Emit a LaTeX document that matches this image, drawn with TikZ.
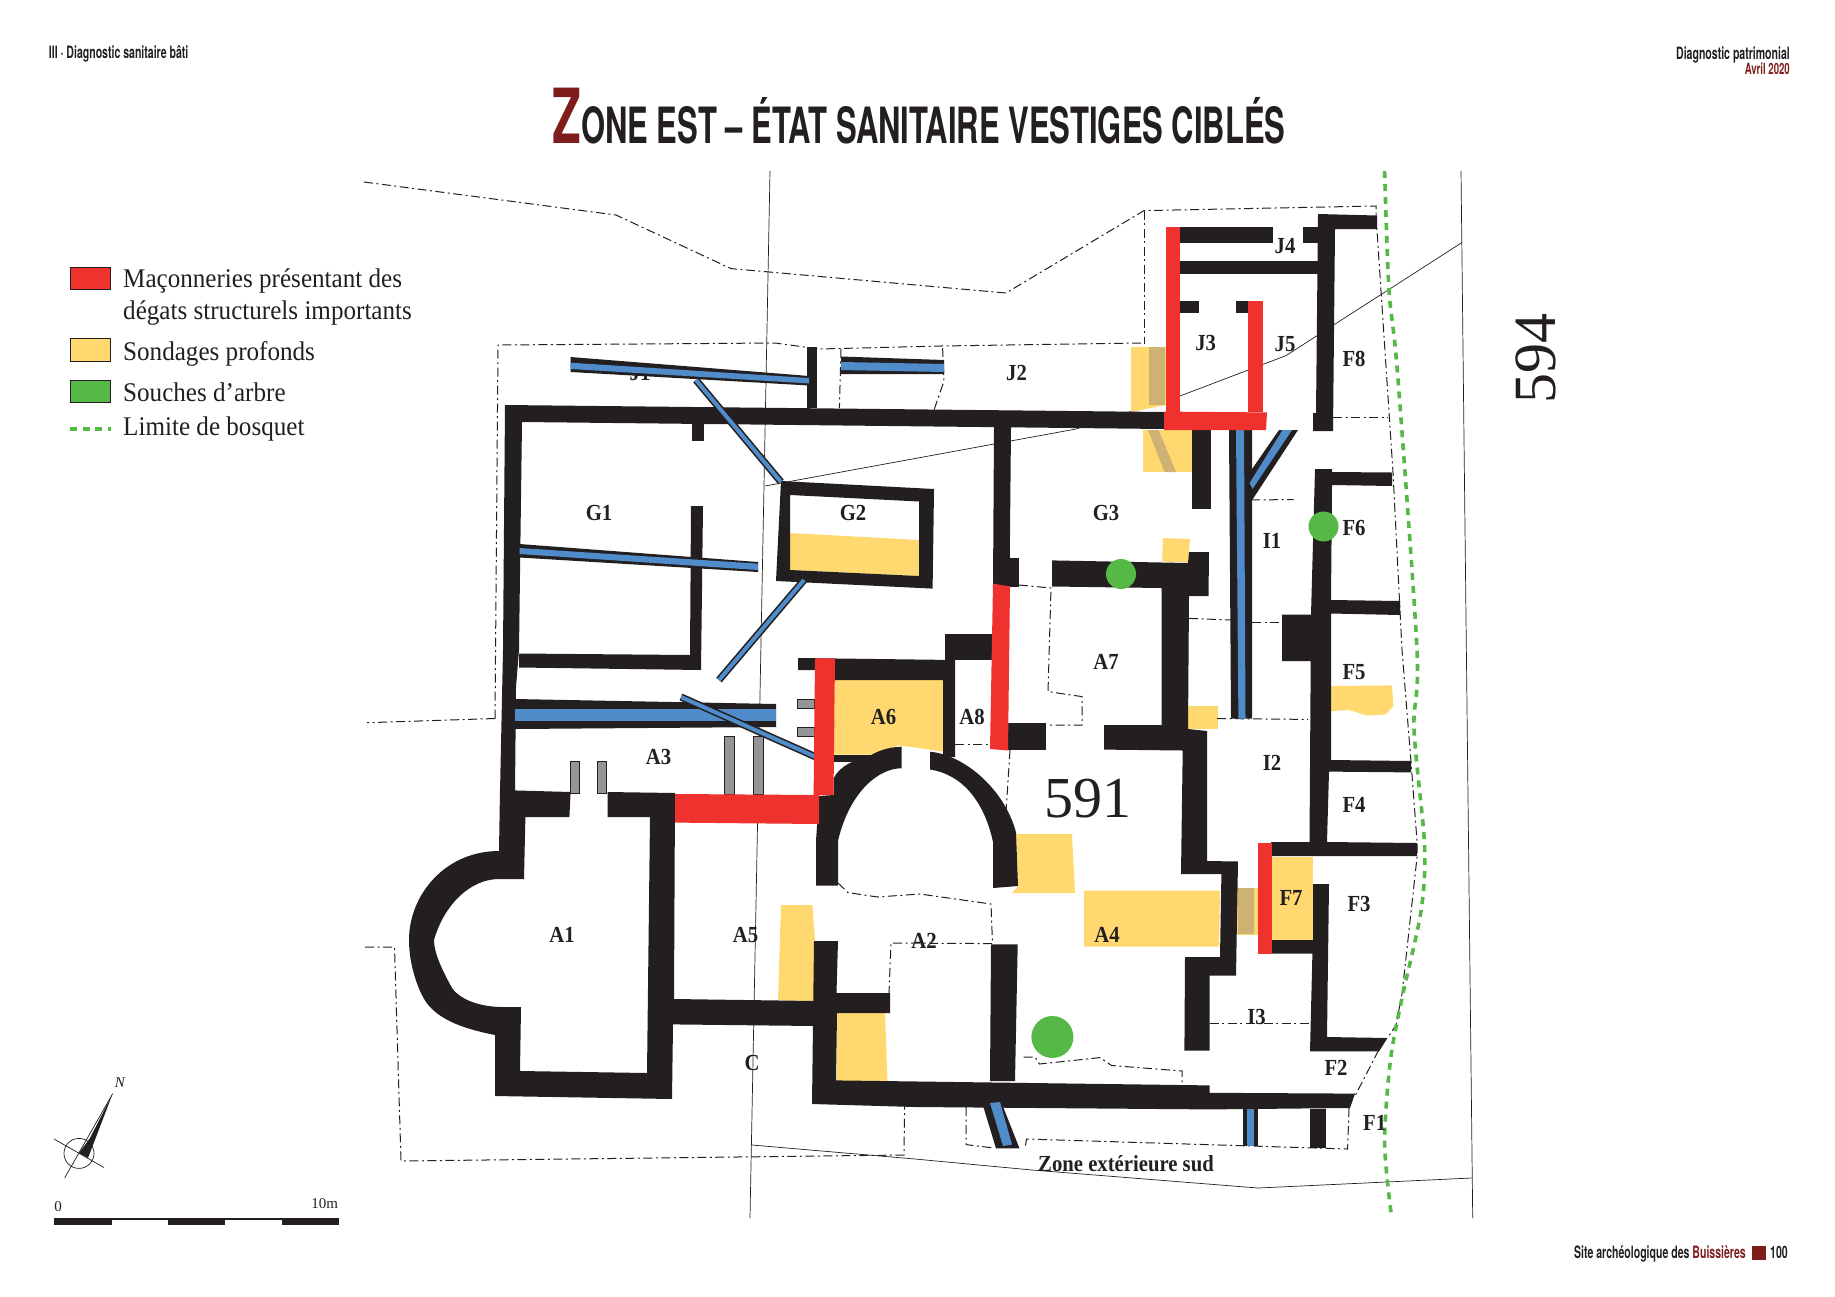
\documentclass[tikz,border=0pt]{standalone}
\usepackage{fontspec}
\setmainfont{Liberation Serif}
\newfontfamily\headfont[FakeStretch=0.62]{TeX Gyre Heros}
\newfontfamily\legendfont[FakeStretch=0.93]{Liberation Serif}
\newfontfamily\roomfont[FakeStretch=0.9]{Liberation Serif}
\usetikzlibrary{positioning,calc}
\definecolor{wallc}{HTML}{231F20}
\definecolor{redc}{HTML}{EF322D}
\definecolor{yellowc}{HTML}{FFD970}
\definecolor{bluec}{HTML}{4F8CC9}
\definecolor{grayc}{HTML}{939598}
\definecolor{greenc}{HTML}{56B947}
\definecolor{darkredc}{HTML}{7F1D1D}
\definecolor{tanc}{HTML}{CDB273}
\begin{document}
\begin{tikzpicture}[x=1pt,y=-1pt]
    \tikzstyle{every node}=[inner sep=0,text=wallc]
    \tikzstyle{wall}=[fill=wallc]
    \tikzstyle{damage}=[fill=redc]
    \tikzstyle{probe}=[fill=yellowc]
    \tikzstyle{oldprobe}=[fill=tanc]
    \tikzstyle{water}=[fill=bluec]
    \tikzstyle{stub}=[fill=grayc,draw=wallc,line width=0.6]
    \tikzstyle{stump}=[fill=greenc]
    \tikzstyle{pipe}=[draw=wallc,double=bluec,double distance=4,line width=1.6]
    \tikzstyle{thin}=[draw=wallc,line width=0.7]
    \tikzstyle{limit}=[draw=wallc,line width=1,dash pattern=on 9 off 3.5 on 2 off 3.5]
    \tikzstyle{grove}=[draw=greenc,line width=3.6,dash pattern=on 7 off 6]
    \tikzstyle{room}=[font=\roomfont\bfseries\fontsize{23}{23}\selectfont]
    \tikzstyle{legend}=[anchor=base west,font=\legendfont\fontsize{27}{27}\selectfont]
    \tikzstyle{head}=[font=\headfont\bfseries\fontsize{17}{17}\selectfont]
    \useasboundingbox (0,0) rectangle (1835,1296);

    % header and title
    \node[head,anchor=base west] (runhead) at (48.7,58) {III · Diagnostic sanitaire bâti};
    \node[head,anchor=base east] (runright) at (1790,59) {Diagnostic patrimonial};
    \node[head,anchor=base east,text=darkredc,font=\headfont\bfseries\fontsize{15.5}{15.5}\selectfont] (rundate) at (1790,74.6) {Avril 2020};
    \node[anchor=base,font=\headfont\bfseries\fontsize{50}{50}\selectfont] (title) at (919,143)
        {\textcolor{darkredc}{\fontsize{76}{76}\selectfont Z}ONE EST – ÉTAT SANITAIRE VESTIGES CIBLÉS};
    \node[head,anchor=base east] (foot) at (1746,1258) {Site archéologique des \textcolor{darkredc}{Buissières}};
    \fill[fill=darkredc] (1751.5,1246) rectangle (1766,1259.5);
    \node[head,anchor=base east] (folio) at (1788,1258) {100};

    % legend
    \draw[damage,draw=wallc,line width=0.8] (70.4,267.4) rectangle (110.4,289.3);
    \draw[probe,draw=wallc,line width=0.8] (70.4,338) rectangle (110.4,361.4);
    \draw[stump,draw=wallc,line width=0.8] (70.4,380.5) rectangle (110.4,402.5);
    \draw[draw=greenc,line width=3.6,dash pattern=on 7 off 5.5] (70.4,429) -- (111,429);
    \node[legend] (leg1) at (123,287) {Maçonneries présentant des};
    \node[legend] (leg2) at (123,319) {dégats structurels importants};
    \node[legend] (leg3) at (123,360) {Sondages profonds};
    \node[legend] (leg4) at (123,401) {Souches d’arbre};
    \node[legend] (leg5) at (123,435) {Limite de bosquet};

    % cadastre
    \draw[thin] (770,171) -- (750,1218);
    \draw[thin] (1461,171) -- (1472.7,1218);
    \draw[thin] (765,486) -- (1076,429) -- (1180,396) -- (1286,355.6) -- (1462,242.5);
    \draw[thin] (752,1145) -- (915,1159) -- (1032,1170) -- (1258,1188) -- (1471.5,1178);

    % soundings
    \fill[probe] (790,533) -- (919,540) -- (919,576) -- (790,570) -- cycle;
    \fill[probe] (835,680) -- (943,680) -- (943,751.7) -- (915,747.5) -- (898,745.5) -- (872,754.6) -- (833.5,754.6) -- cycle;
    \fill[probe] (1016,834) -- (1072,834) -- (1075,893) -- (1012,893) -- (1018,886) -- cycle;
    \fill[probe] (1084,890.6) -- (1220,890.6) -- (1219,946.5) -- (1084,946.5) -- cycle;
    \fill[probe] (1258,887.7) rectangle (1237,935);
    \fill[oldprobe] (1238,888) rectangle (1254,934);
    \fill[probe] (1271,856.6) -- (1313,856.6) -- (1313,940) -- (1271,940) -- cycle;
    \fill[probe] (1331,686) -- (1392,685.4) -- (1393.4,706) -- (1386,714.4) -- (1367,715.6) -- (1349,710) -- (1331,711) -- cycle;
    \fill[probe] (1188,706) rectangle (1218,729);
    \fill[probe] (1163,538) -- (1190,539) -- (1188,562.5) -- (1162,561.6) -- cycle;
    \fill[probe] (1131,347) -- (1166,347) -- (1166,405) -- (1131,412) -- cycle;
    \fill[oldprobe] (1149,347) rectangle (1164.5,405);
    \fill[probe] (1143,430) rectangle (1192,472);
    \fill[oldprobe] (1148,430) -- (1158.6,430) -- (1176,472) -- (1164.5,472) -- cycle;
    \fill[probe] (781,905) -- (812.4,905) -- (815,941) -- (815,1001) -- (778,1000.4) -- cycle;
    \fill[probe] (836.5,1013) -- (885,1011.6) -- (887.5,1081) -- (836.5,1081) -- cycle;

    % limits of the rooms
    \draw[limit] (364,182) -- (616,215) -- (731,268.6) -- (1006,293) -- (1144,210.6) -- (1376,206) -- (1376,215.5);
    \draw[limit] (1144,210.6) -- (1144,344);
    \draw[limit] (495,718.5) -- (498,345) -- (775,343) -- (819,349) -- (941,346) -- (1141,343);
    \draw[limit] (495,718.5) -- (367,722.7);
    \draw[limit] (942.6,348) -- (944,381) -- (934,410);
    \draw[limit] (841,349) -- (839.4,408);
    \draw[limit] (365,947) -- (394.5,947) -- (401,1161) -- (904,1155) -- (904.6,1106);
    \draw[limit] (838,883) -- (848,892.6) -- (877.6,897) -- (920,894) -- (991,904) -- (992.5,943.6) -- (891,943) -- (889,993);
    \draw[limit] (1019,585) -- (1051,588) -- (1048,691.6) -- (1082,696.6) -- (1082,725) -- (1047,725);
    \draw[limit] (955,744) -- (990,744);
    \draw[limit] (1010,750) -- (1006,812);
    \draw[limit] (1251,500) -- (1293.6,499.5);
    \draw[limit] (1189,618.4) -- (1231,620);
    \draw[limit] (1252,622.6) -- (1282,622.6);
    \draw[limit] (1217,718.5) -- (1308,719.4);
    \draw[limit] (1333,417) -- (1387.5,417);
    \draw[limit] (1376,215.5) -- (1393,472.5) -- (1402,650) -- (1411,762) -- (1417,841) -- (1417,857.4) -- (1402,994) -- (1396,1025) -- (1387.5,1038);
    \draw[limit] (1378.7,1050) -- (1355,1096);
    \draw[limit] (1349,1108) -- (1347.6,1149) -- (1026.5,1139) -- (1025,1148.4);
    \draw[limit] (966,1107) -- (966,1144.6) -- (994,1148);
    \draw[limit] (1209.7,1023) -- (1309.5,1023);
    \draw[limit] (1023.6,1057) -- (1035,1057) -- (1039.4,1064) -- (1100,1057.6) -- (1111.6,1065.5) -- (1182,1071) -- (1182,1084.5);

    % labels lying under the masonry
    \node[room] (J1) at (640,373) {J1};
    \node[room] (I3) at (1256.6,1017) {I3};

    % walls
    \fill[wall] (505,405) -- (1164,412) -- (1164,429) -- (522,422) -- (519,650) -- (516,687) -- (515,792) -- (500,792) -- (503,650) -- cycle;
    \fill[wall] (692,420) rectangle (704,441);
    \fill[wall] (807,347) rectangle (817,408);
    \fill[wall] (570.5,357) -- (809,376) -- (809,385.5) -- (570.5,372) -- cycle;
    \fill[wall] (841,356.5) -- (944,360) -- (944,374) -- (841,374) -- cycle;
    \fill[wall] (691,506) -- (703,506) -- (701,670) -- (519,667.5) -- (519,653.5) -- (690,655) -- cycle;
    \fill[wall] (519.5,544) -- (758,562) -- (758,572) -- (519.5,557.5) -- cycle;
    \fill[wall,even odd rule] (781,481) -- (934,489) -- (932.6,588.6) -- (776,581) -- cycle
        (790,495) -- (919,501.5) -- (919,576) -- (790,570) -- cycle;
    \fill[wall] (515,699) -- (776,704) -- (776,727) -- (515,729) -- cycle;
    \fill[wall] (500,790) -- (570.6,792) -- (569.4,817) -- (525.4,817) -- (524,879) -- (499,879)
        .. controls (470,879) and (444,905) .. (434,940)
        .. controls (434,955) and (445,975) .. (452,988)
        .. controls (462,1002) and (485,1007) .. (502,1007)
        -- (521,1007) -- (520,1071) -- (647,1073) -- (650,817) -- (607.5,817) -- (607.5,792) -- (675,793)
        -- (674,999) -- (815,1001) -- (815,1026) -- (673,1024.4) -- (672,1099) -- (495,1096) -- (495,1035)
        .. controls (470,1030) and (440,1022) .. (426,1002)
        .. controls (418,990) and (409,965) .. (409,940)
        .. controls (409,895) and (445,851) .. (499,851) -- cycle;
    \fill[wall] (798,658) -- (955,660) -- (955,757) -- (943,757) -- (943,680) -- (835,680) -- (835,670) -- (798,670) -- cycle;
    \fill[wall] (945,634) -- (993,634) -- (993,660) -- (945,660) -- cycle;
    \fill[wall] (994,427) -- (1011,427) -- (1009.5,586) -- (993,586) -- cycle;
    \fill[wall] (1009,558) rectangle (1019,586.5);
    \fill[wall] (1052,560.4) -- (1188,563) -- (1189,552) -- (1209,552) -- (1208.5,596) -- (1189,596) -- (1188,729)
        -- (1207,731) -- (1207,861) -- (1238,861.5) -- (1236,975.5) -- (1209.7,975.5) -- (1209.7,1050.5) -- (1184.4,1050.5)
        -- (1185,957) -- (1220,957) -- (1221.4,874) -- (1181,874) -- (1182.7,750.5) -- (1104,749.6) -- (1104,725) -- (1161.5,725)
        -- (1161.5,588) -- (1052,586.5) -- cycle;
    \fill[wall] (1008,723) rectangle (1046,750);
    \fill[wall] (1192,430) rectangle (1211.4,509);
    \fill[wall] (1229,430) -- (1252,430) -- (1252,718.5) -- (1231,718.5) -- cycle;
    \fill[wall] (1279,430) -- (1298,430) -- (1252.5,499.5) -- (1249.6,499.5) -- (1249.6,472.5) -- cycle;
    \fill[wall] (1180,227) rectangle (1273,242.5);
    \fill[wall] (1303,227) rectangle (1320,242.5);
    \fill[wall] (1180,261) rectangle (1320,274);
    \fill[wall] (1180,300.5) rectangle (1199,313);
    \fill[wall] (1236,300.5) rectangle (1248.4,313);
    \fill[wall] (1318,214) -- (1377,215.5) -- (1377,229) -- (1335,229) -- (1333,431) -- (1313,431) -- (1313,413) -- (1316,413) -- cycle;
    \fill[wall] (1315,469) -- (1332,469) -- (1332,472) -- (1392,472.5) -- (1392,486) -- (1332,485) -- (1331,600) -- (1400,601) -- (1400,615)
        -- (1331,613.5) -- (1331,760) -- (1411,761) -- (1411,772.4) -- (1329,771.6) -- (1327,842) -- (1417,843) -- (1417,856) -- (1271,856)
        -- (1271,842) -- (1309.5,842) -- (1311,614.7) -- (1282,614.7) -- (1282,661) -- (1311,661) -- (1311,614.7) -- cycle;
    \fill[wall] (1282,614.7) rectangle (1312,661);
    \fill[wall] (1313,884) -- (1329,884) -- (1327,1037) -- (1387.5,1038) -- (1379,1051.4) -- (1310,1051.4) -- (1312.4,953.5) -- (1271,953.5) -- (1271,940) -- (1313,940) -- cycle;
    \fill[wall] (814,941) -- (838,941) -- (836.5,993) -- (890,993) -- (890,1013) -- (837,1013) -- (836,1080.4) -- (1209.7,1085.4) -- (1209.7,1092.8)
        -- (1355,1093.6) -- (1350,1108) -- (1209.7,1109.4) -- (915,1107) -- (812,1104) -- cycle;
    \fill[wall] (991,944.4) -- (1017.7,944.4) -- (1015,1081) -- (990,1081) -- cycle;
    \fill[wall] (1309.5,1109) rectangle (1326,1148.4);
    \fill[wall] (1242.5,1109) rectangle (1258.4,1145.5);
    \fill[wall] (982.5,1104) -- (1002,1104) -- (1019.5,1148.4) -- (996,1148.4) -- cycle;
    % arch
    \fill[wall] (819,796) -- (833.5,795) -- (833.5,778.6) .. controls (840,765) and (855,760) .. (872,754.6)
        .. controls (880,750) and (890,747) .. (901.6,746.7) -- (901.6,768.3)
        .. controls (880,768) and (850,790) .. (838,840.8) -- (838,885.6) -- (816,885.6) -- (816,841) -- cycle;
    \fill[wall] (930,751.7) .. controls (965,755) and (1005,790) .. (1016,832.5) -- (1018,886) -- (993,888) -- (993,842)
        .. controls (985,805) and (965,775) .. (930,769.5) -- cycle;
    \fill[wall] (833.5,754.6) rectangle (872,762);

    % pipes and stubs
    \fill[water] (570.5,362.7) -- (809,378) -- (809,383.4) -- (570.5,369) -- cycle;
    \fill[water] (841,362) -- (944,364) -- (944,372) -- (841,370) -- cycle;
    \fill[water] (519.5,548) -- (758,563.7) -- (758,570) -- (519.5,554) -- cycle;
    \fill[water] (515,709.4) rectangle (776,721);
    \fill[water] (1236,430) -- (1244,430) -- (1245.5,718.5) -- (1238.4,718.5) -- cycle;
    \fill[water] (1282.5,430) -- (1292,430) -- (1252.5,489) -- (1249.6,483) -- cycle;
    \fill[water] (1247,1109) rectangle (1253.7,1145.5);
    \fill[water] (990,1103) -- (1000,1102) -- (1012,1144.6) -- (1003,1146) -- cycle;
    \path[pipe] (696,380) -- (781,482);
    \path[pipe] (804,580) -- (719,680);
    \path[pipe] (681,697) -- (816,757);
    \draw[stub] (570.6,761) rectangle (579,793.6);
    \draw[stub] (597.6,761) rectangle (606,793.6);
    \draw[stub] (724,736) rectangle (734,794);
    \draw[stub] (753,736) rectangle (763,794);
    \draw[stub] (797,699) rectangle (814,708);
    \draw[stub] (797,727) rectangle (814,736);

    % damaged masonry
    \fill[damage] (675,794) -- (819,795) -- (819,824) -- (675,822.6) -- cycle;
    \fill[damage] (815,658.4) -- (835,658.4) -- (833.5,795) -- (813.6,795) -- cycle;
    \fill[damage] (993,583.6) -- (1010,586.5) -- (1008,750.5) -- (990,749) -- cycle;
    \fill[damage] (1164,411.6) -- (1267,412.4) -- (1266,430) -- (1164,430) -- cycle;
    \fill[damage] (1166,227) rectangle (1180,412);
    \fill[damage] (1248.4,300.5) rectangle (1262.5,412);
    \fill[damage] (1258.4,842.5) rectangle (1272,953.6);

    % stumps
    \fill[stump] (1323.5,526.5) circle (15);
    \fill[stump] (1121,574) circle (15);
    \fill[stump] (1052.4,1037) circle (21);

    % edge of the grove
    \draw[grove] plot[smooth] coordinates {(1384.6,171) (1389,290) (1397.5,373) (1417,650) (1414,729) (1424.5,845) (1421,911) (1402,998) (1390.4,1060.5) (1384.6,1143.4) (1391.7,1218)};

    % room names
    \node[room] (G1) at (599,513) {G1};
    \node[room] (G2) at (853,513) {G2};
    \node[room] (G3) at (1106,513) {G3};
    \node[room] (J2) at (1016.5,373) {J2};
    \node[room] (J3) at (1205.6,343) {J3};
    \node[room] (J4) at (1285,246) {J4};
    \node[room] (J5) at (1285,344) {J5};
    \node[room] (F8) at (1354,358.5) {F8};
    \node[room] (F6) at (1354,527.6) {F6};
    \node[room] (I1) at (1272,541) {I1};
    \node[room] (A7) at (1106,662) {A7};
    \node[room] (F5) at (1354,672) {F5};
    \node[room] (A8) at (972,717) {A8};
    \node[room] (A6) at (883.5,717) {A6};
    \node[room] (A3) at (658.6,757) {A3};
    \node[room] (I2) at (1272,763) {I2};
    \node[room] (F4) at (1354,805) {F4};
    \node[room] (F7) at (1291,897.6) {F7};
    \node[room] (F3) at (1359,904) {F3};
    \node[room] (A1) at (562,935) {A1};
    \node[room] (A5) at (745.5,935) {A5};
    \node[room] (A2) at (924,941) {A2};
    \node[room] (A4) at (1107,935) {A4};
    \node[room] (C) at (752,1062.6) {C};
    \node[room] (F2) at (1336,1067.5) {F2};
    \node[room] (F1) at (1374.6,1122.7) {F1};
    \node[room] (extsud) at (1126,1164) {Zone extérieure sud};
    \node[font=\fontsize{58}{58}\selectfont] (p591) at (1088,799) {591};
    \node[font=\fontsize{60}{60}\selectfont,rotate=90] (p594) at (1536,358.6) {594};

    % north arrow and scale
    \draw[wallc,line width=0.7] (79,1153.4) circle (15);
    \draw[wallc,line width=0.7] (112.7,1093.6) -- (64.6,1178);
    \draw[wallc,line width=0.7] (54,1139) -- (104,1167.5);
    \fill[wall] (112.7,1093.6) -- (88,1158) -- (79,1153) -- (90,1138) -- cycle;
    \node[font=\itshape\fontsize{15}{15}\selectfont] (north) at (120,1083) {N};
    \fill[wall] (54,1218.4) rectangle (339,1225);
    \fill[white] (111.5,1219.6) rectangle (168,1225);
    \fill[white] (225.4,1219.6) rectangle (281.8,1225);
    \node[font=\fontsize{15}{15}\selectfont] (sc0) at (58,1207) {0};
    \node[font=\fontsize{15}{15}\selectfont] (sc10) at (324.6,1204) {10m};
\end{tikzpicture}
\end{document}
